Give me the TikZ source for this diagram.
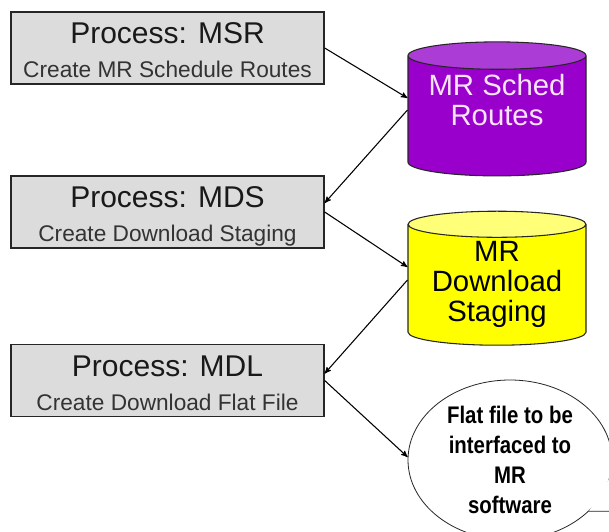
\documentclass[tikz,border=0pt]{standalone}
\usepackage{fontspec}
\setmainfont{Liberation Sans}
\newfontfamily\notefont[FakeStretch=0.85]{Liberation Sans}
\usepackage{tikz}
\usetikzlibrary{arrows,shapes.geometric,positioning,calc}
\definecolor{boxgray}{RGB}{220,220,220}
\definecolor{purplei}{RGB}{153,0,204}
\definecolor{purplecap}{RGB}{172,60,214}
\definecolor{yellowi}{RGB}{255,255,0}
\definecolor{yellowcap}{RGB}{255,255,120}
\definecolor{pinki}{RGB}{250,228,250}
\tikzset{>=stealth',
          process/.style={
            rectangle,draw=black!85,line width=1pt,fill=boxgray,
            minimum width=234.75pt,minimum height=54pt,
            inner sep=0pt,align=center,
            text height=44.5pt,text depth=0pt,
            font=\fontsize{17}{25.5}\selectfont
          },
          store/.style={
            cylinder,shape border rotate=90,aspect=0.2,
            draw=black!85,line width=0.8pt,
            cylinder uses custom fill,
            minimum width=133.5pt,minimum height=100.5pt,
            inner sep=0pt,align=center,
            font=\fontsize{22}{22.5}\selectfont
          },
          note/.style={
            ellipse,draw=black!85,line width=0.6pt,fill=white,
            minimum width=153pt,minimum height=120pt,
            inner sep=0pt,align=center,
            font=\notefont\bfseries\fontsize{18}{22.5}\selectfont
          },
          flow/.style={->,line width=0.8pt}
        }
\newcommand\ProcNode[4]{%
          \node[process] (#1) at (167.5,#2)
          {{\fontsize{22.5}{25.5}\selectfont\color{black!90}#3}\\
           {\color{black!80}#4}};
        }
\begin{document}
\begin{tikzpicture}[x=0.75pt,y=-0.75pt]

            \fill[white] (0,0) rectangle (609,531);
            \useasboundingbox (0,0) rectangle (609,531);
            \clip (0,0) rectangle (609,531);

            \ProcNode{msr}{48}{Process: MSR}{Create MR Schedule Routes}
            \ProcNode{mds}{212}{Process: MDS}{Create Download Staging}
            \ProcNode{mdl}{380.5}{Process: MDL}{Create Download Flat File}

            \node[store,cylinder body fill=purplei,cylinder end fill=purplecap,
                  text=pinki,text depth=24pt] (routes) at (497,116)
                  {MR Sched\\Routes};
            \node[store,cylinder body fill=yellowi,cylinder end fill=yellowcap,
                  text depth=6pt] (staging) at (497,285) {MR\\Download\\Staging};

            \node[note] (flat) at (510,460)
                  {Flat file to be\\interfaced to\\MR\\software};
            \coordinate (flattip) at (665,511);
            \fill[white] (flat.-33) -- (flattip) -- (flat.-10) -- cycle;
            \draw[line width=0.6pt,draw=black!85] (flat.-33) -- (flattip) -- (flat.-10);

            \draw[flow] (msr.east) -- ($(routes.west)+(0,-18)$);
            \draw[flow] ($(routes.west)+(0,-6)$) -- ($(mds.east)+(0,-9)$);
            \draw[flow] (mds.east) -- ($(staging.west)+(0,-18)$);
            \draw[flow] ($(staging.west)+(0,-5)$) -- ($(mdl.east)+(0,-7)$);
            \draw[flow] (mdl.east) -- ($(flat.west)+(0,-3)$);

          \end{tikzpicture}
\end{document}
